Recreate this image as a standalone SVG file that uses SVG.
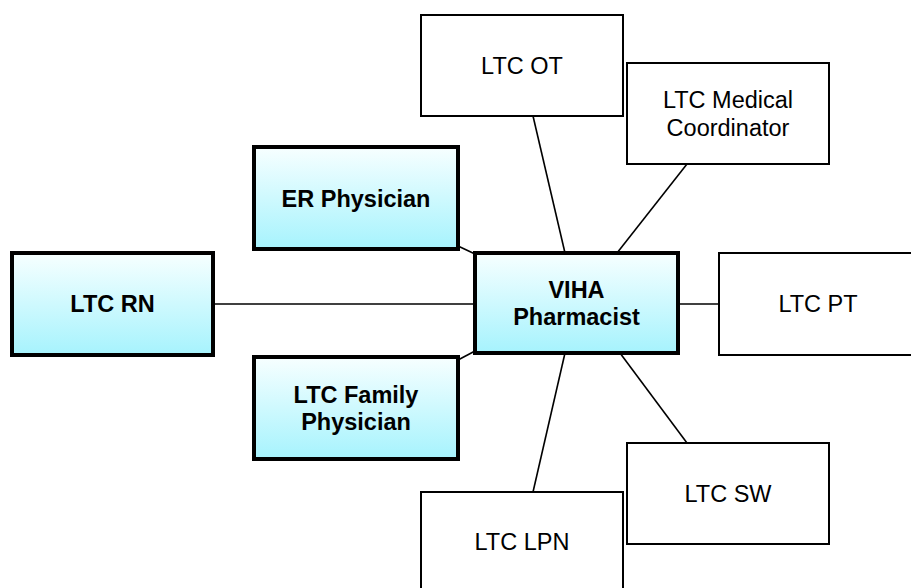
<svg xmlns="http://www.w3.org/2000/svg" width="911" height="588" viewBox="0 0 911 588">
<defs>
<linearGradient id="cy" x1="0" y1="0" x2="0" y2="1">
<stop offset="0" stop-color="#f7ffff"/>
<stop offset="1" stop-color="#a6f3fd"/>
</linearGradient>
</defs>
<style>
.b{fill:url(#cy);stroke:#000;stroke-width:4}
.w{fill:#fff;stroke:#000;stroke-width:2}
.tb{font-family:"Liberation Sans",Arial,sans-serif;font-weight:bold;font-size:23.5px;text-anchor:middle;fill:#000}
.tn{font-family:"Liberation Sans",Arial,sans-serif;font-size:23.5px;text-anchor:middle;fill:#000}
.c{stroke:#000;stroke-width:1.6;fill:none}
</style>
<rect width="911" height="588" fill="#fff"/>
<g id="connectors">
<line class="c" x1="213" y1="304" x2="475" y2="304"/>
<line class="c" x1="458" y1="246" x2="475" y2="254"/>
<line class="c" x1="458" y1="360" x2="475" y2="351"/>
<line class="c" x1="533" y1="116" x2="565" y2="253"/>
<line class="c" x1="687" y1="164" x2="617" y2="253"/>
<line class="c" x1="678" y1="304" x2="719" y2="304"/>
<line class="c" x1="565" y1="353" x2="533" y2="492"/>
<line class="c" x1="620" y1="353" x2="687" y2="443"/>
</g>
<g id="ltc-ot"><rect class="w" x="421" y="15" width="202" height="101"/><text class="tn" x="522" y="74">LTC OT</text></g>
<g id="ltc-medical-coordinator"><rect class="w" x="627" y="63" width="202" height="101"/><text class="tn" x="728" y="108">LTC Medical</text><text class="tn" x="728" y="136">Coordinator</text></g>
<g id="er-physician"><rect class="b" x="254" y="147" width="204" height="102"/><text class="tb" x="356" y="207">ER Physician</text></g>
<g id="ltc-rn"><rect class="b" x="12" y="253" width="201" height="102"/><text class="tb" x="112.5" y="312">LTC RN</text></g>
<g id="viha-pharmacist"><rect class="b" x="475" y="253" width="203" height="100"/><text class="tb" x="576.5" y="298">VIHA</text><text class="tb" x="576.5" y="325">Pharmacist</text></g>
<g id="ltc-pt"><rect class="w" x="719" y="253" width="202" height="102"/><text class="tn" x="818" y="312">LTC PT</text></g>
<g id="ltc-family-physician"><rect class="b" x="254" y="357" width="204" height="102"/><text class="tb" x="356" y="403">LTC Family</text><text class="tb" x="356" y="430">Physician</text></g>
<g id="ltc-sw"><rect class="w" x="627" y="443" width="202" height="101"/><text class="tn" x="728" y="502">LTC SW</text></g>
<g id="ltc-lpn"><rect class="w" x="421" y="492" width="202" height="101"/><text class="tn" x="522" y="550">LTC LPN</text></g>
</svg>
